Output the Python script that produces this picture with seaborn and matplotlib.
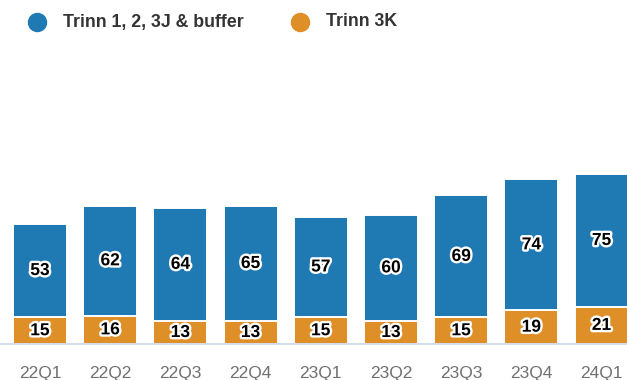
import matplotlib
matplotlib.use("Agg")
import matplotlib.pyplot as plt
import matplotlib.patheffects as pe
from matplotlib.lines import Line2D
import seaborn as sns
import pandas as pd

quarters = ["22Q1", "22Q2", "22Q3", "22Q4", "23Q1", "23Q2", "23Q3", "23Q4", "24Q1"]
trinn_12_3j = [53, 62, 64, 65, 57, 60, 69, 74, 75]
trinn_3k = [15, 16, 13, 13, 15, 13, 15, 19, 21]
series_names = ["Trinn 1, 2, 3J & buffer", "Trinn 3K"]

BLUE = "#1f7ab3"
ORANGE = "#df8f27"

sns.set_theme(style="white")
plt.rcParams["font.family"] = ["Liberation Sans", "DejaVu Sans"]

W, H = 627, 380
fig = plt.figure(figsize=(W / 100, H / 100), dpi=100)
base_px = 344
top_px = 40
ax = fig.add_axes([0, 1 - base_px / H, 1, (base_px - top_px) / H])

df = pd.DataFrame({"q": quarters, "a": trinn_12_3j, "b": trinn_3k})
df["total"] = df["a"] + df["b"]

sns.barplot(data=df, x="q", y="total", color=BLUE, width=0.77, saturation=1,
            edgecolor="white", linewidth=1.4, ax=ax)
sns.barplot(data=df, x="q", y="b", color=ORANGE, width=0.77, saturation=1,
            edgecolor="white", linewidth=1.4, ax=ax)

px_per_unit = 1.77
ax.set_ylim(0, (base_px - top_px) / px_per_unit)
spacing = 70.2
x0 = -40 / spacing
ax.set_xlim(x0, x0 + W / spacing)

stroke = [pe.withStroke(linewidth=3.4, foreground="white")]
for i, (a, b) in enumerate(zip(trinn_12_3j, trinn_3k)):
    ax.text(i, b / 2, f"{b}", ha="center", va="center", fontsize=12.5,
            fontweight="bold", color="black", path_effects=stroke)
    ax.text(i, b + a / 2, f"{a}", ha="center", va="center", fontsize=12.5,
            fontweight="bold", color="black", path_effects=stroke)

for s in ["top", "right", "left"]:
    ax.spines[s].set_visible(False)
ax.spines["bottom"].set_color("#ccd6eb")
ax.spines["bottom"].set_linewidth(1.2)
ax.set_yticks([])
ax.set_xlabel("")
ax.set_ylabel("")
ax.tick_params(axis="x", length=0, pad=16, labelsize=12.5, labelcolor="#707070")

# legend drawn in figure pixel coordinates
leg_y = 1 - 22 / H
for (cx, tx), name, c in zip([(37, 63), (300, 326)], series_names, (BLUE, ORANGE)):
    fig.add_artist(Line2D([cx / W], [leg_y], marker="o", markersize=13, color=c,
                          linestyle="", transform=fig.transFigure))
    fig.text(tx / W, leg_y, name, ha="left", va="center", fontsize=12.8,
             fontweight="bold", color="#333333")

fig.savefig("out.png", dpi=100)
